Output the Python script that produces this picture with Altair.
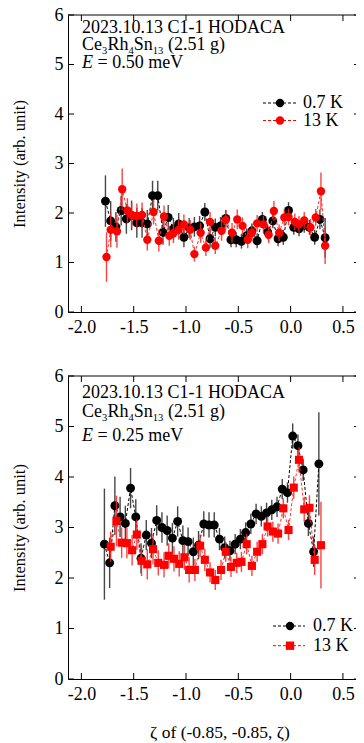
import altair as alt
import pandas as pd

FONT = "Liberation Serif"
XDOM = [-2.128, 0.625]
W = 288
H_TOP = 297
H_BOT = 303

x_ticks = [-2.0, -1.5, -1.0, -0.5, 0.0, 0.5]
y_ticks = [0, 1, 2, 3, 4, 5, 6]

# ---- E = 0.50 meV panel ----
top_x_07 = [-1.77, -1.72, -1.67, -1.62, -1.57, -1.52, -1.47, -1.42, -1.37, -1.32, -1.27,
            -1.22, -1.17, -1.12, -1.07, -1.02, -0.97, -0.92, -0.87, -0.82, -0.77, -0.72,
            -0.67, -0.62, -0.57, -0.52, -0.47, -0.42, -0.37, -0.32, -0.27, -0.22, -0.17,
            -0.12, -0.07, -0.02, 0.03, 0.08, 0.13, 0.18, 0.23, 0.28, 0.33]
top_y_07 = [2.24, 1.84, 1.72, 2.05, 1.88, 1.95, 1.80, 1.80, 1.78, 2.35, 2.35,
            1.61, 1.91, 1.68, 1.78, 1.51, 1.70, 1.72, 1.74, 2.02, 1.48, 1.71,
            1.74, 1.89, 1.46, 1.46, 1.43, 1.54, 1.64, 1.44, 1.87, 1.62, 1.84,
            1.48, 1.51, 2.05, 1.71, 1.68, 1.75, 1.71, 1.51, 1.87, 1.50]
top_e_07 = [0.52, 0.40, 0.30, 0.30, 0.30, 0.30, 0.30, 0.30, 0.28, 0.30, 0.30,
            0.25, 0.25, 0.22, 0.22, 0.20, 0.20, 0.20, 0.20, 0.18, 0.18, 0.18,
            0.18, 0.17, 0.15, 0.15, 0.15, 0.15, 0.15, 0.15, 0.15, 0.15, 0.15,
            0.15, 0.15, 0.17, 0.15, 0.15, 0.15, 0.15, 0.15, 0.20, 0.40]

top_x_13 = [-1.76, -1.72, -1.66, -1.61, -1.56, -1.52, -1.47, -1.42, -1.37, -1.31, -1.26,
            -1.21, -1.16, -1.12, -1.07, -1.02, -0.96, -0.92, -0.86, -0.81, -0.77, -0.72,
            -0.66, -0.62, -0.56, -0.51, -0.46, -0.41, -0.37, -0.32, -0.26, -0.21, -0.16,
            -0.11, -0.06, -0.02, 0.04, 0.08, 0.13, 0.19, 0.24, 0.29, 0.33]
top_y_13 = [1.11, 1.66, 1.63, 2.48, 2.05, 1.96, 1.94, 1.96, 1.46, 2.02, 1.44,
            1.93, 1.54, 1.59, 1.66, 1.77, 1.66, 1.17, 1.60, 1.30, 1.82, 1.34,
            1.64, 1.86, 1.60, 1.87, 1.74, 1.46, 1.60, 1.79, 1.77, 1.56, 2.04,
            1.60, 1.91, 1.92, 1.82, 1.77, 1.85, 1.71, 1.91, 2.44, 1.34]
top_e_13 = [0.50, 0.35, 0.33, 0.42, 0.25, 0.25, 0.25, 0.25, 0.22, 0.25, 0.22,
            0.22, 0.20, 0.20, 0.20, 0.20, 0.20, 0.15, 0.20, 0.17, 0.20, 0.17,
            0.20, 0.20, 0.20, 0.20, 0.17, 0.17, 0.17, 0.17, 0.17, 0.17, 0.20,
            0.17, 0.17, 0.17, 0.17, 0.17, 0.17, 0.17, 0.17, 0.38, 0.37]

# ---- E = 0.25 meV panel ----
bot_x_07 = [-1.78, -1.73, -1.68, -1.63, -1.58, -1.53, -1.48, -1.43, -1.38, -1.33, -1.28,
            -1.23, -1.18, -1.13, -1.08, -1.03, -0.98, -0.93, -0.88, -0.83, -0.78, -0.73,
            -0.68, -0.63, -0.58, -0.53, -0.48, -0.43, -0.38, -0.33, -0.28, -0.23, -0.18,
            -0.13, -0.08, -0.03, 0.02, 0.07, 0.12, 0.17, 0.22, 0.27]
bot_y_07 = [2.67, 2.30, 3.43, 3.21, 3.08, 3.78, 3.21, 2.39, 2.85, 2.69, 3.14,
            3.00, 2.94, 2.79, 3.12, 2.74, 2.72, 2.52, 2.65, 3.07, 3.05, 3.05,
            2.77, 2.60, 2.54, 2.67, 2.77, 2.90, 3.07, 3.27, 3.22, 3.29, 3.35,
            3.41, 3.76, 3.69, 4.81, 4.62, 4.14, 3.08, 2.52, 4.26]
bot_e_07 = [1.10, 0.50, 0.58, 0.40, 0.35, 0.40, 0.35, 0.30, 0.30, 0.30, 0.30,
            0.30, 0.30, 0.30, 0.30, 0.30, 0.28, 0.28, 0.28, 0.25, 0.25, 0.25,
            0.22, 0.22, 0.20, 0.20, 0.20, 0.20, 0.20, 0.20, 0.20, 0.20, 0.20,
            0.20, 0.20, 0.20, 0.25, 0.22, 0.22, 0.25, 0.30, 1.02]

bot_x_13 = [-1.72, -1.665, -1.615, -1.565, -1.515, -1.47, -1.425, -1.37, -1.315, -1.265,
            -1.21, -1.165, -1.115, -1.065, -1.015, -0.97, -0.915, -0.865, -0.82, -0.77,
            -0.72, -0.665, -0.62, -0.57, -0.515, -0.47, -0.42, -0.37, -0.32, -0.27,
            -0.22, -0.17, -0.12, -0.07, -0.02, 0.03, 0.08, 0.13, 0.18, 0.23, 0.29]
bot_y_13 = [2.62, 3.13, 2.70, 2.69, 2.55, 2.86, 2.34, 2.27, 2.57, 2.30,
            2.26, 2.44, 2.38, 2.28, 2.41, 2.16, 2.16, 2.64, 2.36, 2.11,
            1.96, 2.16, 2.52, 2.22, 2.30, 2.32, 2.67, 2.24, 2.52, 2.67,
            3.02, 2.92, 2.88, 3.38, 2.95, 3.79, 4.34, 3.36, 3.39, 2.36, 2.65]
bot_e_13 = [0.30, 0.50, 0.30, 0.30, 0.30, 0.30, 0.30, 0.30, 0.30, 0.25,
            0.25, 0.25, 0.25, 0.25, 0.25, 0.25, 0.22, 0.22, 0.22, 0.20,
            0.20, 0.20, 0.20, 0.20, 0.20, 0.20, 0.20, 0.20, 0.20, 0.20,
            0.20, 0.20, 0.20, 0.20, 0.20, 0.22, 0.25, 0.25, 0.25, 0.30, 0.86]

legend_labels = ["0.7 K", "13 K"]
info_line1 = "2023.10.13 C1-1 HODACA"
top_energy = "= 0.50 meV"
bot_energy = "= 0.25 meV"
x_title = "\u03b6 of (-0.85, -0.85, \u03b6)"
y_title = "Intensity (arb. unit)"

FS = 18      # main text size
SUB = 10.5   # subscript size


def frame(x, y, e):
    return pd.DataFrame({"x": x, "y": y,
                         "lo": [a - b for a, b in zip(y, e)],
                         "hi": [a + b for a, b in zip(y, e)]})


def txt(text, x, y, size=FS, style="normal", color="black", baseline="alphabetic"):
    return alt.Chart(pd.DataFrame({"t": [text]})).mark_text(
        align="left", baseline=baseline, font=FONT, fontSize=size,
        fontStyle=style, color=color
    ).encode(text="t:N", x=alt.value(x), y=alt.value(y))


def panel(h, black, red, red_shape, energy, base, leg, show_xtitle):
    xscale = alt.Scale(domain=XDOM, nice=False, zero=False)
    yscale = alt.Scale(domain=[0, 6], nice=False, zero=False)
    xaxis_kw = dict(values=x_ticks, ticks=False, domain=True, domainColor="black",
                    domainWidth=1, grid=False, labelFont=FONT, labelFontSize=FS,
                    labelColor="black", labelPadding=6,
                    labelExpr="datum.value < 0 ? '-' + format(-datum.value, '.1f') : format(datum.value, '.1f')")
    if show_xtitle:
        xaxis = alt.Axis(title=x_title, titleFont=FONT, titleFontSize=17.5,
                         titleFontWeight="normal", titleColor="black",
                         titlePadding=20, titleX=151.5, **xaxis_kw)
    else:
        xaxis = alt.Axis(title=None, **xaxis_kw)
    yaxis = alt.Axis(values=y_ticks, ticks=False, domain=True, domainColor="black",
                     domainWidth=1, grid=False, labelFont=FONT, labelFontSize=FS,
                     labelColor="black", labelPadding=5, format="d",
                     title=y_title, titleFont=FONT, titleFontSize=16.5,
                     titleFontWeight="normal", titleColor="black", titlePadding=27)
    X = alt.X("x:Q", scale=xscale, axis=xaxis)
    Y = alt.Y("y:Q", scale=yscale, axis=yaxis)
    Ylo = alt.Y("lo:Q", scale=yscale, axis=yaxis)

    xt = alt.Chart(pd.DataFrame({"x": x_ticks}))
    yt = alt.Chart(pd.DataFrame({"y": y_ticks}))
    one = alt.Chart(pd.DataFrame({"a": [0]}))
    layers = [
        xt.mark_rule(color="black", strokeWidth=1).encode(x=X, y=alt.value(h), y2=alt.value(h - 6)),
        xt.mark_rule(color="black", strokeWidth=1).encode(x=X, y=alt.value(0), y2=alt.value(6)),
        yt.mark_rule(color="black", strokeWidth=1).encode(y=Y, x=alt.value(0), x2=alt.value(6)),
        yt.mark_rule(color="black", strokeWidth=1).encode(y=Y, x=alt.value(W - 2), x2=alt.value(W)),
        one.mark_rule(color="black", strokeWidth=1).encode(x=alt.value(0), x2=alt.value(W), y=alt.value(0)),
    ]
    bch = alt.Chart(black)
    rch = alt.Chart(red)
    layers += [
        bch.mark_rule(color="#333333", strokeWidth=1.4, opacity=0.9).encode(x=X, y=Ylo, y2="hi:Q"),
        bch.mark_line(color="black", strokeWidth=1, strokeDash=[3, 2]).encode(x=X, y=Y),
        bch.mark_point(filled=True, shape="circle", size=80, color="black", opacity=1).encode(x=X, y=Y),
        rch.mark_rule(color="#ff2020", strokeWidth=1.4, opacity=0.85).encode(x=X, y=Ylo, y2="hi:Q"),
        rch.mark_line(color="#ff3030", strokeWidth=1, strokeDash=[3, 2]).encode(x=X, y=Y),
        rch.mark_point(filled=True, shape=red_shape, size=70 if red_shape == "circle" else 66,
                       color="#ff0000", opacity=1).encode(x=X, y=Y),
    ]
    # annotation
    x0 = 14
    b1, b2, b3 = base
    layers += [
        txt(info_line1, x0, b1),
        txt("Ce", x0, b2), txt("3", x0 + 20.0, b2 + 3.5, size=SUB),
        txt("Rh", x0 + 25.4, b2), txt("4", x0 + 46.4, b2 + 3.5, size=SUB),
        txt("Sn", x0 + 51.8, b2), txt("13", x0 + 70.8, b2 + 3.5, size=SUB),
        txt("(2.51 g)", x0 + 86.0, b2),
        txt("E", x0, b3, style="italic"),
        txt(energy, x0 + 15.5, b3),
    ]
    # legend
    lx1, lx2, mx, tx, r1, r2 = leg
    for ry, col, shp, lab in [(r1, "black", "circle", legend_labels[0]),
                              (r2, "#ff0000", red_shape, legend_labels[1])]:
        layers += [
            one.mark_rule(color=col, strokeWidth=1, strokeDash=[3, 2]).encode(
                x=alt.value(lx1), x2=alt.value(lx2), y=alt.value(ry)),
            one.mark_point(filled=True, shape=shp, size=70, color=col, opacity=1).encode(
                x=alt.value(mx), y=alt.value(ry)),
            txt(lab, tx, ry, baseline="middle"),
        ]
    return alt.layer(*layers).properties(width=W, height=h)


top = panel(H_TOP, frame(top_x_07, top_y_07, top_e_07), frame(top_x_13, top_y_13, top_e_13),
            "circle", top_energy, (18.3, 35.2, 53.3), (195, 230, 212, 235, 88, 105.5), False)
bot = panel(H_BOT, frame(bot_x_07, bot_y_07, bot_e_07), frame(bot_x_13, bot_y_13, bot_e_13),
            "square", bot_energy, (22.3, 41.0, 65.0), (205, 237, 222, 245, 250, 269.7), True)

chart = alt.vconcat(top, bot, spacing=64, bounds="flush").properties(
    autosize=alt.AutoSizeParams(type="none"),
    padding={"left": 60, "top": 7, "right": 0, "bottom": 740},
    background="white",
).configure_view(stroke=None)

chart.save("out.html", embed_options={"renderer": "svg", "actions": False})
